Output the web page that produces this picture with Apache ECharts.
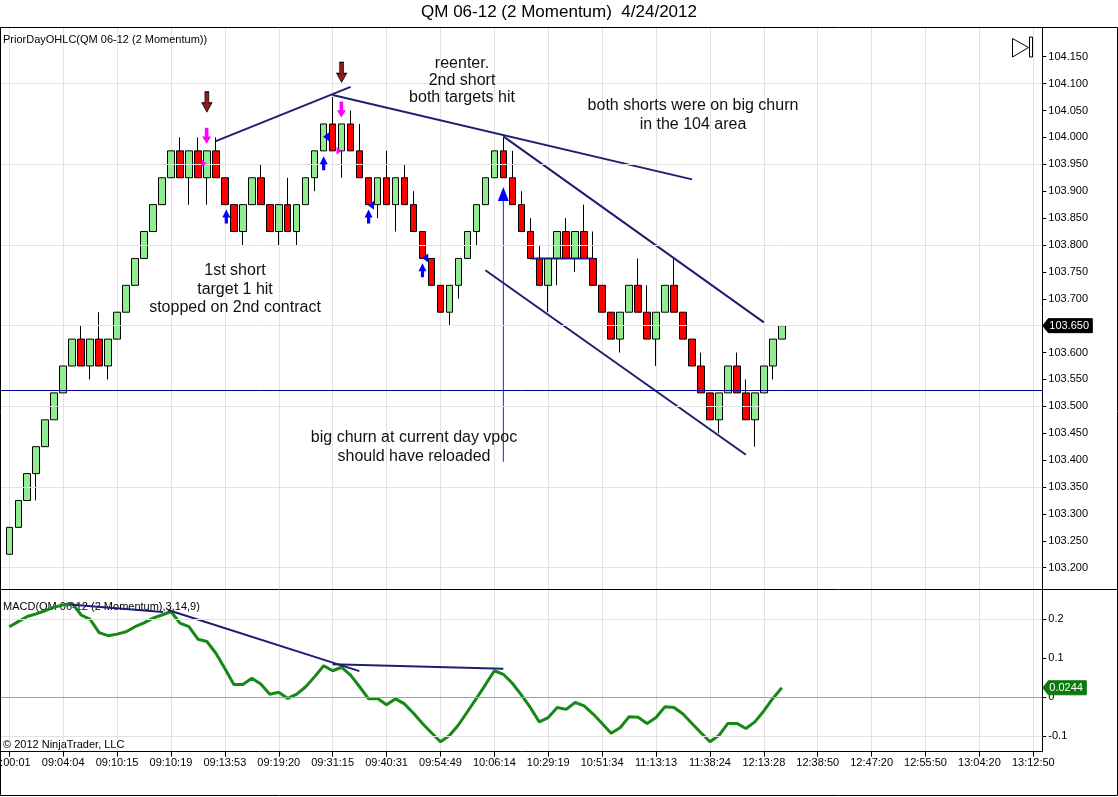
<!DOCTYPE html>
<html>
<head>
<meta charset="utf-8">
<script src="https://cdn.jsdelivr.net/npm/echarts@6/dist/echarts.min.js"></script>
<style>html,body{margin:0;padding:0;background:#fff}#c{width:1118px;height:797px}</style>
</head>
<body>
<div id="c"></div>
<script>
// ---------------- DATA ----------------
const timeLabels = ['09:00:01','09:04:04','09:10:15','09:10:19','09:13:53','09:19:20','09:31:15','09:40:31','09:54:49','10:06:14','10:29:19','10:51:34','11:13:13','11:38:24','12:13:28','12:38:50','12:47:20','12:55:50','13:04:20','13:12:50'];
const priceTicks = [103.200,103.250,103.300,103.350,103.400,103.450,103.500,103.550,103.600,103.650,103.700,103.750,103.800,103.850,103.900,103.950,104.000,104.050,104.100,104.150];
const priceGridVals = [103.200,103.350,103.500,103.650,103.800,103.950,104.100];
const macdTicks = [0.2,0.1,0,-0.1];
const macdGridVals = [0.2,-0.1];

const barOpen  = [103.225,103.275,103.325,103.375,103.425,103.475,103.525,103.575,103.625,103.575,103.625,103.575,103.625,103.675,103.725,103.775,103.825,103.875,103.925,103.975,103.925,103.975,103.925,103.975,103.925,103.875,103.825,103.875,103.925,103.875,103.825,103.875,103.825,103.875,103.925,103.975,104.025,103.975,104.025,103.975,103.925,103.875,103.925,103.875,103.925,103.875,103.825,103.775,103.725,103.675,103.725,103.775,103.825,103.875,103.925,103.975,103.925,103.875,103.825,103.775,103.725,103.775,103.825,103.775,103.825,103.775,103.725,103.675,103.625,103.675,103.725,103.675,103.625,103.675,103.725,103.675,103.625,103.575,103.525,103.475,103.525,103.575,103.525,103.475,103.525,103.575,103.625];
const barClose = [103.275,103.325,103.375,103.425,103.475,103.525,103.575,103.625,103.575,103.625,103.575,103.625,103.675,103.725,103.775,103.825,103.875,103.925,103.975,103.925,103.975,103.925,103.975,103.925,103.875,103.825,103.875,103.925,103.875,103.825,103.875,103.825,103.875,103.925,103.975,104.025,103.975,104.025,103.975,103.925,103.875,103.925,103.875,103.925,103.875,103.825,103.775,103.725,103.675,103.725,103.775,103.825,103.875,103.925,103.975,103.925,103.875,103.825,103.775,103.725,103.775,103.825,103.775,103.825,103.775,103.725,103.675,103.625,103.675,103.725,103.675,103.625,103.675,103.725,103.675,103.625,103.575,103.525,103.475,103.525,103.575,103.525,103.475,103.525,103.575,103.625,103.650];
const barLow   = [103.225,103.275,103.325,103.325,103.425,103.475,103.525,103.575,103.575,103.550,103.575,103.550,103.625,103.675,103.725,103.775,103.825,103.875,103.925,103.925,103.875,103.925,103.875,103.925,103.875,103.825,103.800,103.875,103.875,103.825,103.800,103.825,103.800,103.875,103.900,103.975,103.975,103.925,103.975,103.925,103.875,103.850,103.875,103.825,103.875,103.825,103.775,103.725,103.675,103.650,103.700,103.775,103.800,103.875,103.925,103.925,103.875,103.825,103.775,103.725,103.675,103.725,103.775,103.750,103.775,103.725,103.675,103.625,103.600,103.675,103.675,103.625,103.575,103.675,103.675,103.625,103.575,103.525,103.475,103.450,103.525,103.525,103.475,103.425,103.525,103.550,103.625];
const barHigh  = [103.275,103.325,103.375,103.425,103.475,103.525,103.575,103.625,103.650,103.625,103.675,103.625,103.675,103.725,103.775,103.825,103.875,103.925,103.975,104.000,103.975,104.000,103.975,104.000,103.925,103.875,103.875,103.925,103.950,103.875,103.875,103.925,103.875,103.925,103.975,104.025,104.075,104.025,104.050,104.025,103.925,103.925,103.975,103.925,103.950,103.900,103.825,103.775,103.725,103.725,103.775,103.825,103.875,103.925,103.975,104.000,103.975,103.900,103.850,103.800,103.775,103.825,103.850,103.825,103.875,103.825,103.725,103.675,103.675,103.725,103.775,103.725,103.675,103.725,103.775,103.675,103.625,103.600,103.525,103.525,103.575,103.600,103.550,103.525,103.575,103.625,103.650];

const macdValues = [0.181,0.194,0.207,0.214,0.222,0.231,0.237,0.241,0.211,0.200,0.166,0.158,0.162,0.168,0.181,0.191,0.203,0.211,0.220,0.190,0.181,0.149,0.143,0.113,0.074,0.033,0.033,0.049,0.034,0.008,0.013,-0.003,0.008,0.027,0.053,0.081,0.068,0.077,0.057,0.027,-0.004,-0.003,-0.019,-0.004,-0.017,-0.041,-0.067,-0.091,-0.114,-0.098,-0.071,-0.037,-0.003,0.032,0.068,0.059,0.036,0.006,-0.026,-0.063,-0.052,-0.026,-0.031,-0.013,-0.022,-0.043,-0.067,-0.092,-0.078,-0.050,-0.051,-0.067,-0.052,-0.024,-0.026,-0.043,-0.067,-0.091,-0.114,-0.098,-0.067,-0.067,-0.080,-0.063,-0.035,-0.003,0.0244];

// annotations in [bar index, price] units
const priceTrends = [
  [[23.0,103.993],[38.0,104.094]],
  [[36.0,104.079],[76.0,103.922]],
  [[55.0,104.002],[84.0,103.656]],
  [[53.0,103.753],[82.0,103.410]]
];
const churnLine = [[58.0,103.775],[65.0,103.775]];
const vpocLine = [[55.0,103.883],[55.0,103.397]];
const vpocPrice = 103.525;
const macdTrends = [
  [[6.74,0.238],[17.1,0.219]],
  [[17.67,0.224],[38.97,0.067]],
  [[36.0,0.085],[55.0,0.073]]
];
const redArrows  = [[22.0,104.066],[37.0,104.121]];
const pinkArrows = [[21.97,104.003],[36.97,104.052]];
const pinkTris   = [[21.67,103.952],[36.71,103.975]];
const blueArrows = [[24.16,103.853],[35.0,103.952],[40.0,103.853],[46.0,103.753]];
const blueTris   = [[35.27,104.001],[40.27,103.874],[46.3,103.776]];
const entryTri   = [[55.0,103.895]];

const notes = [
  ['reenter.',462,64],['2nd short',462,81],['both targets hit',462,98],
  ['both shorts were on big churn',693,106],['in the 104 area',693,125],
  ['1st short',235,271],['target 1 hit',235,290],['stopped on 2nd contract',235,308],
  ['big churn at current day vpoc',414,438],['should have reloaded',414,457]
];

// ---------------- CHART ----------------
const FONT = '"Liberation Sans", Arial, sans-serif';
const SLOTS = 117;           // leading pad + bars + empty future slots
const cats = Array.from({length: SLOTS}, (_, j) => 'b' + j);
const isLabelSlot = (j) => j >= 1 && (j - 1) % 6 === 0;
const sx = (i) => i + 1;     // bar index -> slot
const candleData = barOpen.map((o, i) => [sx(i), o, barClose[i], barLow[i], barHigh[i]]);
const macdData = macdValues.map((v, i) => [sx(i), v]);
const toXY = (pts) => pts.map(p => [sx(p[0]), p[1]]);

const gridL = 0.3, gridR = 1118 - 1042.3;
const navy = '#1e1e72';

function lineSeries(pts, xi, yi, color, width, z) {
  return {type:'line', xAxisIndex:xi, yAxisIndex:yi, data:toXY(pts), symbol:'none', showSymbol:false,
    lineStyle:{color:color, width:width}, itemStyle:{color:color}, z:z, silent:true, animation:false};
}
function scatterSeries(pts, symbol, size, color, border) {
  return {type:'scatter', xAxisIndex:2, yAxisIndex:0, data:toXY(pts), symbol:symbol, symbolSize:size,
    itemStyle:{color:color, borderColor:border || color, borderWidth:border ? 0.8 : 0, opacity:1}, z:6, silent:true, animation:false};
}
const downArrow = 'path://M3,0L7,0L7,11L10,11L5,20L0,11L3,11Z';
const upArrow = 'path://M5,0L10,8L7,8L7,14L3,14L3,8L0,8Z';
const rightTri = 'path://M0,0L6,4L0,8Z';
const leftTri = 'path://M6,0L0,4L6,8Z';

const catAxisBase = (gi) => ({
  type:'category', gridIndex:gi, data:cats, boundaryGap:false,
  splitLine:{show:true, interval:(j) => isLabelSlot(j), lineStyle:{color:'#e2e2e2', width:1}}
});

const option = {
  backgroundColor:'#fff',
  animation:false,
  textStyle:{fontFamily:FONT},
  grid:[
    {left:gridL, right:gridR, top:28, height:561, containLabel:false, outerBoundsMode:'none'},
    {left:gridL, right:gridR, top:590, height:161.7, containLabel:false, outerBoundsMode:'none'}
  ],
  xAxis:[
    Object.assign(catAxisBase(0), {axisLine:{show:false, onZero:false}, axisTick:{show:false}, axisLabel:{show:false}}),
    Object.assign(catAxisBase(1), {
      position:'bottom',
      axisLine:{show:true, onZero:false, lineStyle:{color:'#000', width:1}},
      axisTick:{show:true, interval:(j) => isLabelSlot(j), length:5, lineStyle:{color:'#000'}},
      axisLabel:{show:true, interval:(j) => isLabelSlot(j), color:'#000', fontSize:11, fontFamily:FONT, margin:6,
        formatter:(v, j) => { const k = (j - 1) / 6; return timeLabels[k] || ''; }}
    }),
    {type:'value', gridIndex:0, min:0, max:SLOTS - 1, show:false, axisLine:{onZero:false}},
    {type:'value', gridIndex:1, min:0, max:SLOTS - 1, show:false, axisLine:{onZero:false}}
  ],
  yAxis:[
    {type:'value', gridIndex:0, position:'right', min:103.1604, max:104.2034,
      axisLine:{show:true, onZero:false, lineStyle:{color:'#000', width:1}},
      axisTick:{show:true, customValues:priceTicks, length:4, lineStyle:{color:'#000'}},
      axisLabel:{show:true, customValues:priceTicks, color:'#000', fontSize:11, fontFamily:FONT, margin:6,
        formatter:(v) => Number(v).toFixed(3)},
      splitLine:{show:false}},
    {type:'value', gridIndex:1, position:'right', min:-0.1395, max:0.2751,
      axisLine:{show:true, onZero:false, lineStyle:{color:'#000', width:1}},
      axisTick:{show:true, customValues:macdTicks, length:4, lineStyle:{color:'#000'}},
      axisLabel:{show:true, customValues:macdTicks, color:'#000', fontSize:11, fontFamily:FONT, margin:6,
        formatter:(v) => (Math.abs(v) < 1e-9 ? '0' : String(Math.round(v * 10) / 10))},
      splitLine:{show:false}}
  ],
  series:[]
};

// grid lines (price panel) + vpoc horizontal line
option.series.push({
  type:'line', xAxisIndex:2, yAxisIndex:0, data:priceGridVals.map(v => [0, v]), symbol:'none',
  lineStyle:{width:0, opacity:0}, z:1, silent:true,
  markLine:{silent:true, symbol:['none','none'], label:{show:false}, animation:false,
    lineStyle:{color:'#e2e2e2', width:1, type:'solid'},
    data: priceGridVals.map(v => ({yAxis:v}))}
});
option.series.push({
  type:'line', xAxisIndex:2, yAxisIndex:0, data:[[0, vpocPrice]], symbol:'none',
  lineStyle:{width:0, opacity:0}, z:5, silent:true,
  markLine:{silent:true, symbol:['none','none'], label:{show:false}, animation:false,
    lineStyle:{color:'#000090', width:1, type:'solid'},
    data:[{yAxis:vpocPrice}]}
});
// grid lines (MACD panel) + zero line
option.series.push({
  type:'line', xAxisIndex:3, yAxisIndex:1, data:macdGridVals.map(v => [0, v]), symbol:'none',
  lineStyle:{width:0, opacity:0}, z:1, silent:true,
  markLine:{silent:true, symbol:['none','none'], label:{show:false}, animation:false,
    data: macdGridVals.map(v => ({yAxis:v, lineStyle:{color:'#e2e2e2', width:1, type:'solid'}}))
      .concat([{yAxis:0, lineStyle:{color:'#a0a0a0', width:1, type:'solid'}}])}
});

// candles
option.series.push({
  type:'candlestick', xAxisIndex:0, yAxisIndex:0, data:candleData, encode:{x:0, y:[1,2,3,4]},
  barWidth:7, clip:false, z:3, silent:true,
  itemStyle:{color:'#90ee90', color0:'#ff0000', borderColor:'#000', borderColor0:'#000', borderWidth:1}
});

// trend lines
priceTrends.forEach(t => option.series.push(lineSeries(t, 2, 0, navy, 2, 4)));
option.series.push(lineSeries(churnLine, 2, 0, navy, 2, 4));
option.series.push(lineSeries(vpocLine, 2, 0, '#2222cc', 1, 4));

// markers
option.series.push(scatterSeries(redArrows, downArrow, [10, 20], '#8e1c1c', '#000'));
option.series.push(scatterSeries(pinkArrows, downArrow, [9, 16], '#ff00ff'));
option.series.push(scatterSeries(pinkTris, rightTri, [5, 8], '#ff00ff'));
option.series.push(scatterSeries(blueArrows, upArrow, [8, 14], '#0000ff'));
option.series.push(scatterSeries(blueTris, leftTri, [6, 9], '#0000ff'));
option.series.push(scatterSeries(entryTri, 'triangle', [11, 14], '#0000ff'));

// MACD
option.series.push({
  type:'line', xAxisIndex:1, yAxisIndex:1, data:macdData, symbol:'none', showSymbol:false,
  lineStyle:{color:'#168816', width:3}, itemStyle:{color:'#168816'}, z:3, silent:true
});
macdTrends.forEach(t => option.series.push(lineSeries(t, 3, 1, navy, 2, 4)));

const chart = echarts.init(document.getElementById('c'), null, {renderer:'canvas'});
chart.setOption(option);

// overlay texts / frame / value boxes
const lastPrice = barClose[barClose.length - 1];
const lastMacd = macdValues[macdValues.length - 1];
const yPrice = chart.convertToPixel({yAxisIndex:0}, lastPrice);
const yMacd = chart.convertToPixel({yAxisIndex:1}, lastMacd);
const axisX = 1042.3;

function valueBox(y, w, fill, text) {
  return [
    {type:'polygon', z:100, shape:{points:[[axisX + 0.5, y], [axisX + 6, y - 7], [axisX + 6 + w, y - 7], [axisX + 6 + w, y + 7], [axisX + 6, y + 7]]},
      style:{fill:fill, stroke:fill}},
    {type:'text', z:101, style:{text:text, x:axisX + 7, y:y, fill:'#fff', fontSize:11, fontFamily:FONT, align:'left', verticalAlign:'middle'}}
  ];
}

const graphics = [
  {type:'rect', z:50, shape:{x:0.5, y:27.5, width:1117, height:768}, style:{fill:null, stroke:'#000', lineWidth:1}},
  {type:'line', z:50, shape:{x1:0, y1:589.5, x2:1118, y2:589.5}, style:{stroke:'#000', lineWidth:1}},
  {type:'text', z:60, style:{text:'QM 06-12 (2 Momentum)  4/24/2012', x:559, y:12, fill:'#000', fontSize:17, fontFamily:FONT, align:'center', verticalAlign:'middle'}},
  {type:'text', z:60, style:{text:'PriorDayOHLC(QM 06-12 (2 Momentum))', x:3, y:40, fill:'#000', fontSize:11, fontFamily:FONT, align:'left', verticalAlign:'middle'}},
  {type:'text', z:2, style:{text:'MACD(QM 06-12 (2 Momentum),3,14,9)', x:3, y:607, fill:'#000', fontSize:11, fontFamily:FONT, align:'left', verticalAlign:'middle'}},
  {type:'text', z:60, style:{text:'\u00A9 2012 NinjaTrader, LLC', x:3, y:745, fill:'#000', fontSize:11, fontFamily:FONT, align:'left', verticalAlign:'middle'}},
  {type:'polygon', z:60, shape:{points:[[1012.5, 38.5], [1028.5, 47.5], [1012.5, 57]]}, style:{fill:null, stroke:'#000', lineWidth:1}},
  {type:'rect', z:60, shape:{x:1029.5, y:37, width:3, height:20}, style:{fill:null, stroke:'#000', lineWidth:1}}
];
notes.forEach(n => graphics.push({type:'text', z:60, style:{text:n[0], x:n[1], y:n[2], fill:'#111', fontSize:16, fontFamily:FONT, align:'center', verticalAlign:'middle'}}));
valueBox(yPrice, 44, '#000', lastPrice.toFixed(3)).forEach(g => graphics.push(g));
valueBox(yMacd, 38, '#0d7a0d', lastMacd.toFixed(4)).forEach(g => graphics.push(g));

chart.setOption({graphic: graphics});
</script>
</body>
</html>
